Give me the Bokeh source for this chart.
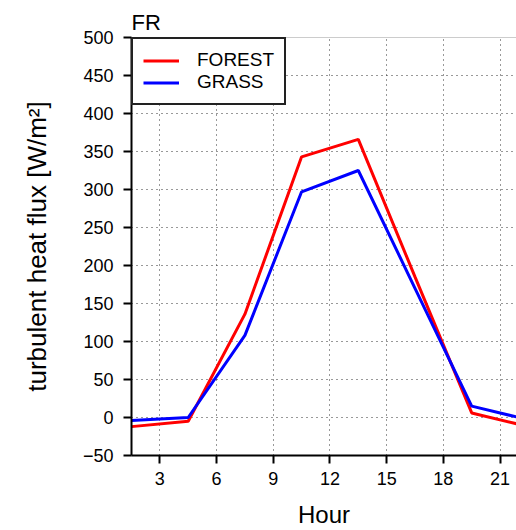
from bokeh.plotting import figure
from bokeh.models import FixedTicker, Range1d, Span, Legend, LegendItem
from bokeh.embed import file_html
from bokeh.resources import INLINE

# Diurnal cycle of turbulent heat flux (3-hourly means)
hours = [1.5, 4.5, 7.5, 10.5, 13.5, 16.5, 19.5, 22.5]
forest = [-12, -5, 136, 343, 366, 185, 6, -12]
grass = [-4, 0, 108, 297, 325, 170, 15, -3]

x_ticks = [3, 6, 9, 12, 15, 18, 21]
y_ticks = [-50, 0, 50, 100, 150, 200, 250, 300, 350, 400, 450, 500]

FONT = "Liberation Sans"

p = figure(
    width=516, height=530,
    x_range=Range1d(1.5, 21.87), y_range=Range1d(-50, 500),
    output_backend="svg", toolbar_location=None,
    min_border_left=131, min_border_right=0,
    min_border_top=37, min_border_bottom=75,
    title="FR",
)
p.outline_line_color = None
p.background_fill_color = "white"
p.border_fill_color = "white"

p.title.text_font = FONT
p.title.text_font_size = "22px"
p.title.text_font_style = "normal"
p.title.text_color = "black"
p.title.align = "left"
p.title.standoff = 5

# axes
for ax in (p.xaxis[0], p.yaxis[0]):
    ax.axis_line_width = 2
    ax.axis_line_color = "black"
    ax.major_tick_line_width = 2
    ax.major_tick_out = 8
    ax.major_tick_in = 0
    ax.minor_tick_out = 0
    ax.minor_tick_in = 0
    ax.major_label_text_font = FONT
    ax.major_label_text_font_size = "18px"
    ax.major_label_text_color = "black"
    ax.axis_label_text_font = FONT
    ax.axis_label_text_font_style = "normal"
    ax.axis_label_text_color = "black"

p.xaxis.ticker = FixedTicker(ticks=x_ticks)
p.yaxis.ticker = FixedTicker(ticks=y_ticks)
p.xaxis.axis_label = "Hour"
p.yaxis.axis_label = "turbulent heat flux [W/m²]"
p.xaxis.axis_label_text_font_size = "24px"
p.yaxis.axis_label_text_font_size = "26px"
p.xaxis.axis_label_text_line_height = 1.0
p.xaxis.axis_label_text_baseline = "middle"
p.xaxis.major_label_standoff = 8
p.yaxis.major_label_standoff = 10
p.xaxis.axis_label_standoff = 13
p.yaxis.axis_label_standoff = 28

# dotted grid
for g in (p.xgrid[0], p.ygrid[0]):
    g.grid_line_color = "#333333"
    g.grid_line_dash = "1 4"
    g.grid_line_width = 1
p.xgrid.ticker = FixedTicker(ticks=x_ticks)
p.ygrid.ticker = FixedTicker(ticks=y_ticks)

# thin top frame line
p.add_layout(Span(location=500, dimension="width", line_color="#999999", line_width=1))

r_forest = p.line(hours, forest, line_color="#ff0000", line_width=3)
r_grass = p.line(hours, grass, line_color="#0000ff", line_width=3)

legend = Legend(
    items=[LegendItem(label="FOREST", renderers=[r_forest]),
           LegendItem(label="GRASS", renderers=[r_grass])],
    location="top_left",
    margin=0,
    padding=10,
    spacing=0,
    glyph_width=36,
    glyph_height=21,
    label_height=21,
    label_standoff=18,
    label_text_font=FONT,
    label_text_font_size="19px",
    label_text_color="black",
    border_line_color="#222222",
    border_line_alpha=1.0,
    border_line_width=2,
    background_fill_color="white",
    background_fill_alpha=1.0,
)
p.add_layout(legend)

open("out.html", "w").write(file_html(p, INLINE))
